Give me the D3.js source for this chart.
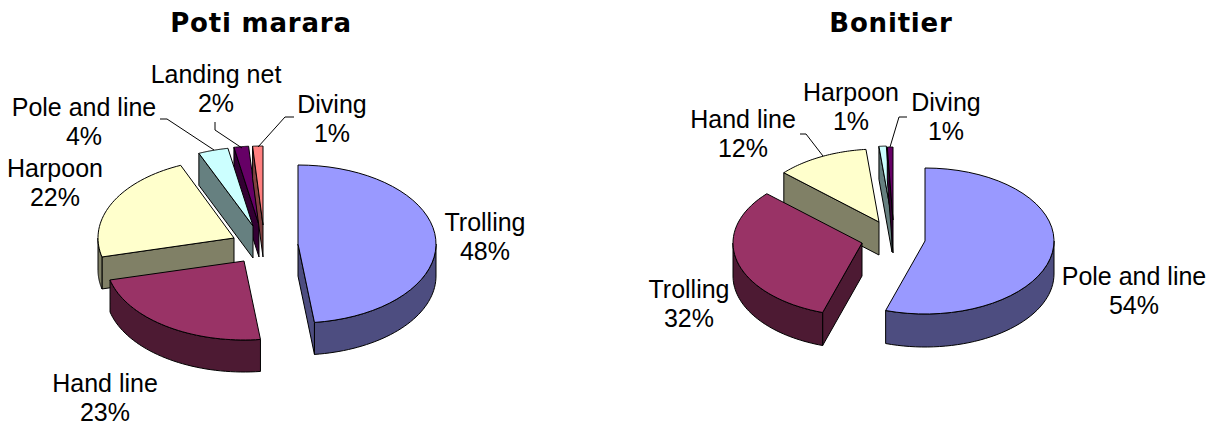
<!DOCTYPE html>
<html><head><meta charset="utf-8">
<script src="https://cdn.jsdelivr.net/npm/d3@7"></script>
<style>html,body{margin:0;background:#fff}svg{display:block}</style></head>
<body><svg id="c" width="1211" height="425"></svg>
<script>
const potiCategories=["Trolling","Hand line","Harpoon","Pole and line","Landing net","Diving"];
const potiValues=[48,23,22.4,3.5,1.7,1.2];
const bonitierCategories=["Pole and line","Trolling","Hand line","Harpoon","Diving"];
const bonitierValues=[54.49,31.6,11.5,0.9,0.7];
const topColors=["#9999FF","#993366","#FFFFCC","#CCFFFF","#660066","#FF8080"];
const sideColors=["#4D4D80","#4D1A33","#808066","#668080","#330033","#804040"];

const FONT="Liberation Sans, Arial, sans-serif";
const LABEL_SIZE=25;
const svg=d3.select("#c");
const fmt=v=>d3.format(".0f")(v)+"%";

const charts=[
 {title:"Poti marara",tx:261,cats:potiCategories,vals:potiValues,rx:138,ry:79,depth:32,
  apex:[[298,244],[244,261],[234,238],[253,226],[259,225],[263,225]],
  rxs:[138,138,136,138,138,138],
  labels:[[485,232],[105,393],[55,178],[84,117],[216,84],[332,114]],
  leaders:[null,null,null,[[160,119],[167,119],[214,150]],[[215,122],[215,130],[242,148]],[[294,117],[285,117],[258,147]]]},
 {title:"Bonitier",tx:891,cats:bonitierCategories,vals:bonitierValues,rx:129,ry:73,depth:33,
  apex:[[925,241],[862,243],[879,222],[892,219],[893,220]],
  rxs:[129,129,129,129,129],
  labels:[[1134,286],[689,299],[743,129],[851,102],[946,112]],
  leaders:[null,null,[[800,134],[806,134],[823,156]],null,[[907,117],[899,117],[890,147]]]}
];

const line=d3.line();
charts.forEach(ch=>{
  svg.append("text").attr("x",ch.tx).attr("y",32).attr("text-anchor","middle")
    .attr("font-family","DejaVu Sans, Verdana, sans-serif").attr("font-weight","bold")
    .attr("font-size",26).attr("letter-spacing",0.8).attr("fill","#000").text(ch.title);

  const arcs=d3.pie().sort(null).value(d=>d)(ch.vals);
  const order=d3.range(arcs.length).sort((p,q)=>ch.apex[p][1]-ch.apex[q][1]);
  order.forEach(i=>{
    const a=arcs[i],[cx,cy]=ch.apex[i],rx=ch.rxs[i];
    const pt=(t,dy=0)=>[cx+rx*Math.sin(t),cy-ch.ry*Math.cos(t)+dy];
    const samples=(t0,t1)=>d3.range(0,41).map(k=>t0+(t1-t0)*k/40);
    const g=svg.append("g").attr("stroke","#000").attr("stroke-width",1).attr("stroke-linejoin","round");
    const side=sideColors[i];
    // radial faces that look toward the viewer
    [a.startAngle,a.endAngle].forEach((t,idx)=>{
      const s=Math.sin(t);
      if((idx===0&&s<-1e-6)||(idx===1&&s>1e-6)){
        g.append("path").attr("fill",side)
         .attr("d",line([[cx,cy],pt(t),pt(t,ch.depth),[cx,cy+ch.depth]])+"Z");
      }
    });
    // outer wall: the lower half of the ellipse
    const w0=Math.max(a.startAngle,Math.PI/2),w1=Math.min(a.endAngle,Math.PI*1.5);
    if(w1>w0){
      const s=samples(w0,w1);
      g.append("path").attr("fill",side)
       .attr("d",line(s.map(t=>pt(t)).concat(s.slice().reverse().map(t=>pt(t,ch.depth))))+"Z");
    }
    // top face
    g.append("path").attr("fill",topColors[i])
     .attr("d",line([[cx,cy]].concat(samples(a.startAngle,a.endAngle).map(t=>pt(t))))+"Z");
  });

  ch.leaders.forEach(l=>{ if(l) svg.append("path").attr("fill","none").attr("stroke","#000").attr("stroke-width",1).attr("d",line(l)); });

  ch.cats.forEach((c,i)=>{
    const [x,y]=ch.labels[i];
    const t=svg.append("text").attr("text-anchor","middle").attr("font-family",FONT)
      .attr("font-size",LABEL_SIZE).attr("fill","#000");
    t.append("tspan").attr("x",x).attr("y",y-1).text(c);
    t.append("tspan").attr("x",x).attr("y",y+28).text(fmt(ch.vals[i]));
  });
});
</script></body></html>
